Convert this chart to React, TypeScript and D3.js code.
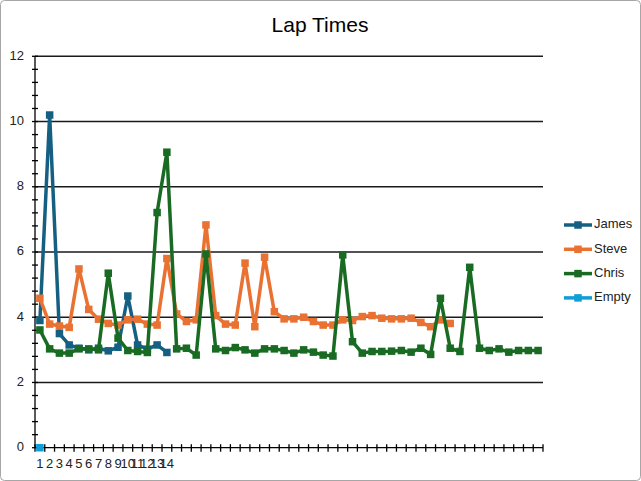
import React from "react";
import * as d3 from "d3";

const categories: number[] = Array.from({ length: 52 }, (_, i) => i + 1);
const xLabels: string[] = ["1","2","3","4","5","6","7","8","9","10","11","12","13","14"];
const james: number[] = [3.9, 10.2, 3.5, 3.15, 3.05, 3.0, 3.05, 2.97, 3.08, 4.65, 3.15, 3.02, 3.15, 2.92];
const steve: number[] = [4.58, 3.79, 3.73, 3.69, 5.48, 4.24, 3.94, 3.81, 3.76, 3.92, 3.94, 3.79, 3.76, 5.8,
  4.1, 3.87, 3.92, 6.83, 4.05, 3.79, 3.76, 5.66, 3.71, 5.84, 4.17, 3.95, 3.95, 4.0, 3.87, 3.76,
  3.76, 3.92, 3.9, 4.02, 4.05, 3.97, 3.95, 3.95, 3.97, 3.84, 3.71, 3.92, 3.81];
const chris: number[] = [3.61, 3.03, 2.9, 2.9, 3.03, 3.03, 3.0, 5.35, 3.36, 2.98, 2.95, 2.92, 7.21, 9.06,
  3.03, 3.05, 2.84, 5.94, 3.03, 2.98, 3.07, 3.0, 2.9, 3.03, 3.03, 2.98, 2.9, 3.0, 2.93, 2.84,
  2.81, 5.91, 3.25, 2.9, 2.95, 2.95, 2.96, 2.98, 2.93, 3.05, 2.86, 4.58, 3.05, 2.95, 5.53, 3.05,
  2.98, 3.03, 2.93, 2.98, 2.98, 2.98];
const empty: number[] = [0];
const seriesNames: string[] = ["James", "Steve", "Chris", "Empty"];
const seriesColors: string[] = ["#156082", "#E97132", "#196B24", "#0F9ED5"];
const yTicks: number[] = [0, 2, 4, 6, 8, 10, 12];

const W = 641, H = 481;
const FONT = "'Liberation Sans', Arial, sans-serif";

export default function App() {
  const x = d3.scaleBand<number>().domain(categories).range([35, 543]).paddingInner(0).paddingOuter(0);
  const y = d3.scaleLinear().domain([0, 12]).range([447.7, 56.3]);
  const cx = (c: number) => (x(c) as number) + x.bandwidth() / 2;
  const line = d3.line<number>().x((_, i) => cx(categories[i])).y((d) => y(d));
  const allSeries = [james, steve, chris, empty];
  const minorTicks = d3.range(0, 12.0001, 0.4);
  const boundaries = d3.range(0, categories.length + 1).map((i) => 35 + i * x.bandwidth());
  const m = 7.5;

  return (
    <svg width={W} height={H} style={{ position: "absolute", left: 0, top: 0, background: "#fff" }}>
      <rect x={0.5} y={0.5} width={W - 1} height={H - 1} rx={4} fill="#fff" stroke="#a6a6a6" />
      <text x={320} y={32} textAnchor="middle" fontFamily={FONT} fontSize={21} fill="#000">Lap Times</text>
      {yTicks.filter((t) => t > 0).map((t) => (
        <line key={"g" + t} x1={35} x2={543} y1={y(t)} y2={y(t)} stroke="#1a1a1a" strokeWidth={1.4} />
      ))}
      {minorTicks.map((t, i) => (
        <line key={"mt" + i} x1={32} x2={38} y1={y(t)} y2={y(t)} stroke="#000" strokeWidth={1.3} />
      ))}
      {yTicks.map((t) => (
        <text key={"yl" + t} x={24} y={y(t)} textAnchor="end" dominantBaseline="middle" fontFamily={FONT} fontSize={13} fill="#222">{t}</text>
      ))}
      <line x1={35} x2={35} y1={y(12)} y2={y(0)} stroke="#000" strokeWidth={1.3} />
      <line x1={35} x2={543} y1={y(0)} y2={y(0)} stroke="#000" strokeWidth={1.3} />
      {boundaries.map((bx, i) => (
        <line key={"xt" + i} x1={bx} x2={bx} y1={y(0) - 3.5} y2={y(0) + 4} stroke="#000" strokeWidth={1.3} />
      ))}
      {xLabels.map((l, i) => (
        <text key={"xl" + i} x={cx(categories[i])} y={468} textAnchor="middle" fontFamily={FONT} fontSize={13} fill="#222">{l}</text>
      ))}
      {allSeries.map((s, si) => (
        <g key={"s" + si}>
          {s.length > 1 && (
            <path d={line(s) || ""} fill="none" stroke={seriesColors[si]} strokeWidth={3.5} strokeLinejoin="round" />
          )}
          {s.map((v, i) => (
            <rect key={i} x={cx(categories[i]) - m / 2} y={y(v) - m / 2} width={m} height={m} fill={seriesColors[si]} />
          ))}
        </g>
      ))}
      {seriesNames.map((n, i) => {
        const ly = 225 + i * 24.3;
        return (
          <g key={"lg" + i}>
            <line x1={564} x2={592} y1={ly} y2={ly} stroke={seriesColors[i]} strokeWidth={3.5} />
            <rect x={578 - m / 2} y={ly - m / 2} width={m} height={m} fill={seriesColors[i]} />
            <text x={594} y={ly} dominantBaseline="middle" fontFamily={FONT} fontSize={13} fill="#222">{n}</text>
          </g>
        );
      })}
    </svg>
  );
}
